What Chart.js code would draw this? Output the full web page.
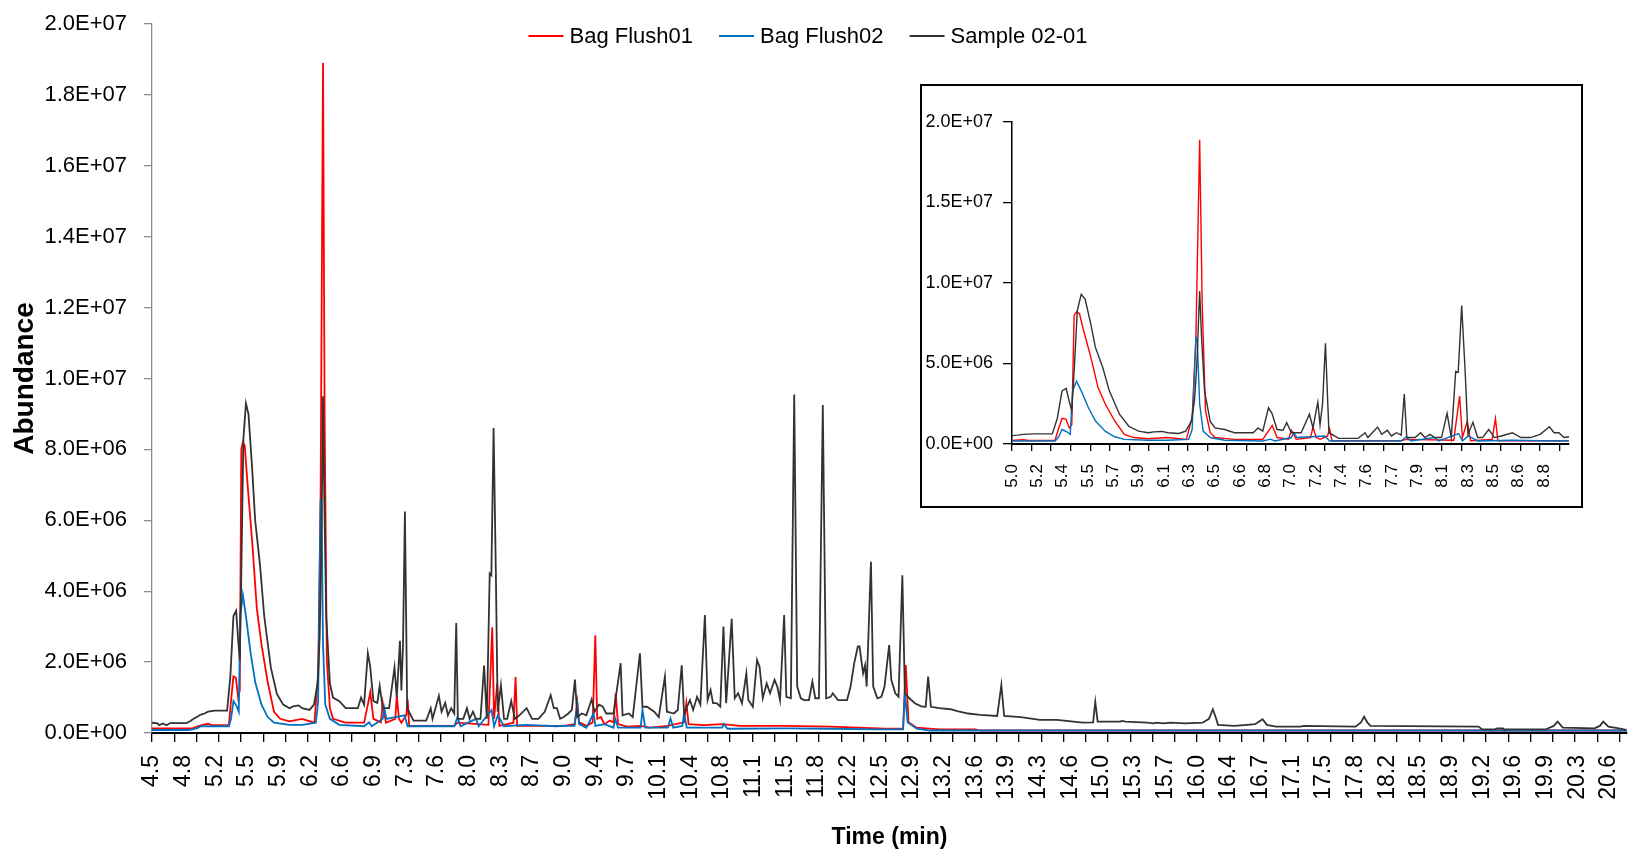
<!DOCTYPE html>
<html>
<head>
<meta charset="utf-8">
<title>Bag flush chromatogram</title>
<script src="https://cdn.jsdelivr.net/npm/chart.js@4.4.0/dist/chart.umd.min.js"></script>
<style>
  body { margin: 0; background: #fff; }
  canvas { display: block; }
  #wrap { position: relative; width: 1629px; height: 856px; }
  #inset { position: absolute; left: 920px; top: 84px; width: 663px; height: 424px;
           border: 2px solid #000; box-sizing: border-box; background: #fff; }
</style>
</head>
<body>
<div id="wrap">
  <canvas id="main" width="1629" height="856"></canvas>
  <div id="inset"><canvas id="zoom" width="659" height="420"></canvas></div>
</div>
<script>
// series: [time (min), abundance (x1e6)]
var bagFlush01 = [
  [4.50,0.13],[4.95,0.14],[5.02,0.20],[5.06,0.23],[5.12,0.26],[5.16,0.22],[5.35,0.23],
  [5.373,0.9],[5.40,1.6],[5.428,1.55],[5.452,1.0],[5.47,1.2],[5.487,8.0],[5.504,8.2],[5.525,8.1],
  [5.555,7.05],[5.607,5.4],[5.659,3.5],[5.71,2.5],[5.779,1.43],[5.848,0.6],[5.916,0.4],[6.019,0.33],
  [6.157,0.4],[6.294,0.29],[6.336,1.64],[6.363,6.6],[6.39,18.9],[6.408,8.8],[6.432,2.05],[6.466,0.7],
  [6.50,0.4],[6.638,0.29],[6.844,0.29],[6.885,0.8],[6.912,1.15],[6.947,0.4],[7.03,0.3],[7.05,0.85],
  [7.085,0.29],[7.188,0.4],[7.205,1.05],[7.229,0.4],[7.256,0.29],[7.31,0.5],[7.325,0.95],[7.342,0.2],
  [7.53,0.2],[7.84,0.2],[7.875,0.29],[8.218,0.23],[8.26,2.98],[8.28,0.4],[8.315,1.4],[8.339,0.2],
  [8.494,0.29],[8.518,1.58],[8.535,0.2],[9.05,0.2],
  [9.17,0.25],[9.20,0.88],[9.22,0.3],[9.30,0.2],[9.37,0.3],[9.399,2.76],[9.42,0.4],[9.46,0.45],
  [9.50,0.25],[9.56,0.35],[9.60,0.3],[9.624,1.12],[9.65,0.25],[9.75,0.18],[9.90,0.2],[10.0,0.15],
  [10.2,0.2],[10.38,0.3],[10.405,0.85],[10.43,0.25],[10.6,0.22],[10.8,0.25],[11.0,0.2],[11.5,0.2],
  [12.0,0.18],[12.3,0.15],[12.6,0.12],[12.8,0.12],[12.83,1.92],[12.86,0.3],[12.95,0.15],[13.2,0.1],
  [13.6,0.1],[13.65,0.07],[20.8,0.07]
];
var bagFlush02 = [
  [4.50,0.085],[4.90,0.085],[4.95,0.10],[5.00,0.14],[5.04,0.19],[5.35,0.19],[5.373,0.4],[5.40,0.9],
  [5.435,0.76],[5.459,0.6],[5.476,3.3],[5.504,3.9],[5.538,3.3],[5.59,2.25],[5.641,1.43],[5.71,0.8],
  [5.779,0.45],[5.848,0.29],[6.019,0.23],[6.157,0.23],[6.311,0.29],[6.336,0.9],[6.363,6.6],[6.373,6.4],
  [6.39,2.5],[6.415,0.8],[6.466,0.4],[6.569,0.23],[6.844,0.19],[6.90,0.3],[6.93,0.19],[7.05,0.4],
  [7.067,0.7],[7.09,0.4],[7.29,0.5],[7.325,0.19],[7.84,0.19],[7.875,0.44],[7.91,0.19],[8.08,0.4],
  [8.11,0.19],[8.253,0.65],[8.28,0.19],[8.322,0.5],[8.39,0.19],[8.63,0.23],[8.975,0.19],[9.054,0.2],
  [9.17,0.2],[9.20,0.8],[9.22,0.25],[9.30,0.15],[9.38,0.55],[9.40,0.2],[9.50,0.25],[9.60,0.15],
  [9.62,0.4],[9.65,0.15],[9.90,0.15],[9.92,0.65],[9.95,0.15],[10.2,0.15],[10.23,0.41],[10.26,0.15],
  [10.36,0.2],[10.38,0.55],[10.41,0.15],[10.8,0.15],[10.82,0.25],[10.86,0.12],[11.5,0.13],[12.0,0.12],
  [12.5,0.1],[12.8,0.1],[12.82,1.12],[12.85,0.3],[12.95,0.12],[13.1,0.07],[20.8,0.07]
];
var sample0201 = [
  [4.50,0.29],[4.56,0.27],[4.58,0.22],[4.62,0.27],[4.66,0.22],[4.70,0.28],[4.80,0.28],[4.88,0.28],
  [4.92,0.33],[4.96,0.40],[5.00,0.46],[5.04,0.52],[5.08,0.55],[5.12,0.60],[5.19,0.63],[5.33,0.63],
  [5.366,1.6],[5.40,3.3],[5.43,3.45],[5.45,2.7],[5.47,2.05],[5.487,4.5],[5.51,8.3],[5.538,9.3],
  [5.566,9.0],[5.607,7.45],[5.64,6.0],[5.693,4.75],[5.74,3.3],[5.813,1.85],[5.88,1.1],[5.95,0.8],
  [6.02,0.7],[6.06,0.75],[6.12,0.78],[6.16,0.7],[6.24,0.65],[6.29,0.8],[6.33,1.4],[6.353,2.7],
  [6.37,5.0],[6.39,9.5],[6.404,6.6],[6.425,3.3],[6.466,1.4],[6.50,1.0],[6.57,0.9],[6.64,0.7],
  [6.775,0.7],[6.81,1.0],[6.844,0.8],[6.885,2.25],[6.91,1.9],[6.947,0.9],[6.99,0.85],[7.016,1.33],
  [7.05,0.7],[7.12,0.7],[7.18,1.85],[7.205,1.0],[7.24,2.6],[7.256,1.2],[7.274,2.5],[7.295,6.25],
  [7.32,0.7],[7.39,0.35],[7.53,0.35],[7.58,0.7],[7.60,0.4],[7.67,1.05],[7.70,0.6],[7.74,0.85],
  [7.77,0.5],[7.806,0.7],[7.84,0.55],[7.862,3.1],[7.88,0.4],[7.94,0.4],[7.98,0.7],[8.01,0.4],
  [8.047,0.6],[8.08,0.4],[8.13,0.4],[8.17,1.9],[8.20,0.4],[8.232,4.5],[8.25,4.45],[8.275,8.6],
  [8.30,4.5],[8.32,0.6],[8.356,1.35],[8.39,0.4],[8.425,0.4],[8.47,0.9],[8.51,0.4],[8.56,0.5],
  [8.64,0.7],[8.70,0.4],[8.77,0.4],[8.84,0.6],[8.906,1.07],[8.94,0.7],[8.975,0.7],[9.01,0.4],
  [9.05,0.45],[9.10,0.55],[9.14,0.65],[9.174,1.51],[9.20,0.45],[9.25,0.55],[9.30,0.5],[9.359,0.95],
  [9.39,0.6],[9.44,0.8],[9.48,0.75],[9.52,0.55],[9.60,0.55],[9.679,1.97],[9.70,0.5],[9.77,0.55],
  [9.813,0.45],[9.892,2.25],[9.92,0.74],[9.97,0.74],[10.05,0.6],[10.10,0.45],[10.168,1.59],[10.19,0.6],
  [10.267,0.55],[10.31,0.65],[10.354,1.91],[10.38,0.55],[10.445,0.93],[10.48,0.65],[10.523,1.02],[10.56,0.8],
  [10.61,3.33],[10.64,0.93],[10.673,1.21],[10.70,0.84],[10.74,0.84],[10.78,0.74],[10.815,3.0],[10.845,0.84],
  [10.906,3.22],[10.94,0.98],[10.977,1.12],[11.02,0.84],[11.068,1.68],[11.09,0.93],[11.14,0.74],[11.186,2.06],
  [11.214,1.87],[11.25,0.98],[11.293,1.4],[11.33,1.12],[11.38,1.5],[11.41,1.31],[11.44,0.93],[11.486,3.33],
  [11.51,1.02],[11.56,0.98],[11.597,9.55],[11.63,1.31],[11.67,0.98],[11.707,0.93],[11.76,0.93],[11.798,1.45],
  [11.83,0.98],[11.87,0.98],[11.913,9.25],[11.95,0.98],[12.0,1.02],[12.023,1.12],[12.08,0.93],[12.181,0.93],
  [12.22,1.31],[12.26,1.97],[12.30,2.44],[12.319,2.44],[12.358,1.68],[12.38,1.91],[12.398,1.31],[12.445,4.83],
  [12.47,1.31],[12.516,0.98],[12.56,1.02],[12.595,1.31],[12.646,2.48],[12.67,1.5],[12.714,1.12],[12.75,1.02],
  [12.792,4.45],[12.82,1.12],[12.87,0.98],[12.93,0.84],[13.0,0.75],[13.05,0.74],[13.077,1.59],[13.108,0.74],
  [13.2,0.7],[13.325,0.67],[13.40,0.62],[13.52,0.55],[13.65,0.51],[13.84,0.48],[13.886,1.35],[13.917,0.48],
  [14.1,0.45],[14.312,0.37],[14.5,0.37],[14.786,0.29],[14.90,0.30],[14.924,0.88],[14.95,0.32],[15.2,0.32],
  [15.22,0.34],[15.26,0.32],[15.5,0.29],[15.57,0.27],[15.6,0.29],[15.68,0.27],[15.75,0.29],[15.92,0.27],
  [16.11,0.29],[16.18,0.4],[16.224,0.67],[16.26,0.4],[16.28,0.23],[16.46,0.2],[16.6,0.23],[16.69,0.25],
  [16.773,0.39],[16.82,0.23],[16.92,0.18],[17.19,0.18],[17.23,0.2],[17.8,0.18],[17.86,0.3],[17.895,0.46],
  [17.93,0.3],[17.965,0.2],[19.16,0.18],[19.2,0.1],[19.34,0.1],[19.36,0.13],[19.43,0.13],[19.44,0.1],
  [19.9,0.1],[19.99,0.2],[20.034,0.32],[20.09,0.15],[20.44,0.13],[20.5,0.2],[20.537,0.32],[20.595,0.18],
  [20.71,0.13],[20.79,0.085]
];

var seriesNames = ['Bag Flush01', 'Bag Flush02', 'Sample 02-01'];

var mainTickLabels = ['4.5','4.8','5.2','5.5','5.9','6.2','6.6','6.9','7.3','7.6','8.0','8.3','8.7','9.0',
  '9.4','9.7','10.1','10.4','10.8','11.1','11.5','11.8','12.2','12.5','12.9','13.2','13.6','13.9','14.3',
  '14.6','15.0','15.3','15.7','16.0','16.4','16.7','17.1','17.5','17.8','18.2','18.5','18.9','19.2','19.6',
  '19.9','20.3','20.6'];
var insetTickLabels = ['5.0','5.2','5.4','5.5','5.7','5.9','6.1','6.3','6.5','6.6','6.8','7.0','7.2','7.4',
  '7.6','7.7','7.9','8.1','8.3','8.5','8.6','8.8'];

var colors = ['#ff0000', '#0070c0', '#333333'];
var sans = "'Liberation Sans', Arial, sans-serif";

function toPoints(arr) {
  return arr.map(function(p) { return { x: p[0], y: p[1] * 1e6 }; });
}

function sci(v) {
  var parts = Number(v).toExponential(1).split('e');
  var e = parts[1];
  return parts[0] + 'E' + e[0] + e.slice(1).padStart(2, '0');
}

function makeDatasets(width) {
  var all = [bagFlush01, bagFlush02, sample0201];
  return all.map(function(arr, i) {
    return {
      label: seriesNames[i],
      data: toPoints(arr),
      borderColor: colors[i],
      borderWidth: width,
      pointRadius: 0,
      tension: 0,
      fill: false,
      xAxisID: 'x',
      order: 2 - i
    };
  });
}

// x axis pair: one carries the tick marks, the other the labels
function xAxes(min, max, labels, labelStep, tickStep, tickLen, labelPad, labelFont, axisHeight, title) {
  var tickCount = Math.floor((max - min) / tickStep + 1e-6);
  return {
    xt: {
      type: 'linear', position: 'bottom', weight: 0, min: min, max: max,
      afterBuildTicks: function(s) {
        var t = [];
        for (var k = 0; k <= tickCount; k++) t.push({ value: min + k * tickStep });
        s.ticks = t;
      },
      afterFit: function(s) { s.height = tickLen; s.paddingLeft = 0; s.paddingRight = 0; },
      ticks: { display: false },
      grid: { display: true, drawOnChartArea: false, drawTicks: true, tickLength: tickLen, color: '#000', lineWidth: 1.3 },
      border: { display: true, color: '#000', width: 2 }
    },
    x: {
      type: 'linear', position: 'bottom', weight: 1, min: min, max: max,
      afterBuildTicks: function(s) {
        s.ticks = labels.map(function(l, k) { return { value: min + k * labelStep }; });
      },
      afterFit: function(s) { s.height = axisHeight; s.paddingLeft = 0; s.paddingRight = 0; },
      ticks: {
        autoSkip: false, minRotation: 90, maxRotation: 90, padding: labelPad,
        color: '#000', font: labelFont,
        callback: function(v, i) { return labels[i]; }
      },
      grid: { display: false, drawTicks: false },
      border: { display: false },
      title: title
    }
  };
}

var legendPlugin = {
  id: 'topLegend',
  afterDraw: function(chart) {
    var ctx = chart.ctx;
    ctx.save();
    ctx.font = '22px ' + sans;
    var lineLen = 35, gapText = 6, gapItem = 26;
    var widths = seriesNames.map(function(n) { return ctx.measureText(n).width; });
    var total = 0;
    widths.forEach(function(w, i) { total += lineLen + gapText + w + (i < widths.length - 1 ? gapItem : 0); });
    var x = 808 - total / 2, y = 36;
    ctx.textBaseline = 'middle';
    ctx.textAlign = 'left';
    seriesNames.forEach(function(n, i) {
      ctx.strokeStyle = colors[i];
      ctx.lineWidth = 2.2;
      ctx.beginPath(); ctx.moveTo(x, y); ctx.lineTo(x + lineLen, y); ctx.stroke();
      ctx.fillStyle = '#000';
      ctx.fillText(n, x + lineLen + gapText, y + 1);
      x += lineLen + gapText + widths[i] + gapItem;
    });
    ctx.restore();
  }
};

var mainX = xAxes(4.5, 20.8, mainTickLabels, 0.35, 0.2457, 9, 13, { family: sans, size: 23 }, 114,
  { display: true, text: 'Time (min)', color: '#000', font: { family: sans, size: 23, weight: 'bold' }, padding: { top: 0, bottom: 5 } });

new Chart(document.getElementById('main'), {
  type: 'line',
  data: { datasets: makeDatasets(1.8) },
  options: {
    responsive: false, animation: false, devicePixelRatio: 1,
    layout: { padding: { top: 24, right: 2, bottom: 0, left: 0 } },
    plugins: { legend: { display: false }, tooltip: { enabled: false } },
    scales: {
      xt: mainX.xt,
      x: mainX.x,
      y: {
        type: 'linear', min: 0, max: 2e7,
        afterFit: function(s) { s.width = 152; s.paddingTop = 0; s.paddingBottom = 0; },
        ticks: { stepSize: 2e6, padding: 17, color: '#000', font: { family: sans, size: 22 }, callback: function(v) { return sci(v); } },
        grid: { display: true, drawOnChartArea: false, tickLength: 8, color: '#8c8c8c', lineWidth: 1.3 },
        border: { display: true, color: '#8c8c8c', width: 1.3 },
        title: { display: true, text: 'Abundance', color: '#000', font: { family: sans, size: 28, weight: 'bold' }, padding: { top: 8, bottom: 0 } }
      }
    }
  },
  plugins: [legendPlugin]
});

var insetX = xAxes(5.04, 9.047, insetTickLabels, 0.1822, 0.1406, 7, 13, { family: sans, size: 17 }, 55,
  { display: false });

new Chart(document.getElementById('zoom'), {
  type: 'line',
  data: { datasets: makeDatasets(1.4) },
  options: {
    responsive: false, animation: false, devicePixelRatio: 1,
    layout: { padding: { top: 36, right: 12, bottom: 0, left: 0 } },
    plugins: { legend: { display: false }, tooltip: { enabled: false } },
    scales: {
      xt: insetX.xt,
      x: insetX.x,
      y: {
        type: 'linear', min: 0, max: 2e7,
        afterFit: function(s) { s.width = 90; s.paddingTop = 0; s.paddingBottom = 0; },
        ticks: { stepSize: 5e6, padding: 10, color: '#000', font: { family: sans, size: 18 }, callback: function(v) { return sci(v); } },
        grid: { display: true, drawOnChartArea: false, tickLength: 9, color: '#000', lineWidth: 1.3 },
        border: { display: true, color: '#000', width: 1.5 }
      }
    }
  }
});
</script>
</body>
</html>
